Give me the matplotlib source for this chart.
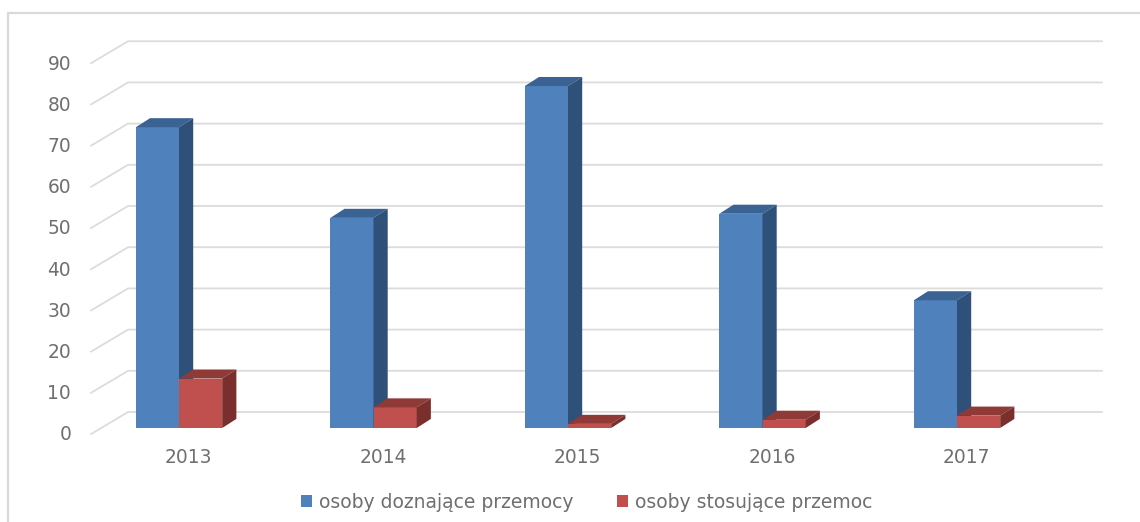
import matplotlib
matplotlib.use('Agg')
import matplotlib.pyplot as plt
from matplotlib.patches import Patch

years = ['2013', '2014', '2015', '2016', '2017']
doznajace = [73, 51, 83, 52, 31]
stosujace = [12, 5, 1, 2, 3]
y_ticks = [0, 10, 20, 30, 40, 50, 60, 70, 80, 90]
names = ['osoby doznające przemocy', 'osoby stosujące przemoc']

text_color = '#6f6f6f'
grid_color = '#dcdcdc'

fig = plt.figure(figsize=(11.4, 5.22), dpi=100)
ax = fig.add_axes([0, 0, 1, 1])
# one category is 194.5 px, one value unit is 4.12 px
ax.set_xlim(-179 / 194.5, (1140 - 179) / 194.5)
ax.set_ylim(-94 / 4.12, 428 / 4.12)
ax.axis('off')

# outer frame of the pasted chart
ax.plot([8 / 1140, 8 / 1140, 1], [0, 1 - 13 / 522, 1 - 13 / 522],
        transform=ax.transAxes, color='#d9d9d9', lw=1.6, clip_on=False)

# walls: slanted piece on the side, long line on the back
for v in y_ticks:
    front = v - 1.46
    back = v + 3.88
    ax.plot([-0.452, -0.262, 4.745], [front, back, back], color=grid_color, lw=1.3, zorder=1)
    ax.text(-0.452 - 0.102, front - 0.2, str(v), ha='right', va='center', fontsize=13.4, color=text_color)

w = 0.222
dx = 0.073
dy = 2.2


def bar3d(x, value, front, top, side):
    ax.bar(x, value, width=w, align='edge', color=front, zorder=3, lw=0)
    ax.fill([x, x + dx, x + w + dx, x + w], [value, value + dy, value + dy, value], color=top, lw=0, zorder=3)
    ax.fill([x + w, x + w + dx, x + w + dx, x + w], [0, dy, value + dy, value], color=side, lw=0, zorder=3)


for i in range(len(years)):
    bar3d(i - w, doznajace[i], '#4f81bd', '#3a6292', '#2f5078')
    bar3d(i, stosujace[i], '#c0504d', '#8f3a37', '#7a2f2c')
    ax.text(i + 0.05, -7.1, years[i], ha='center', va='center', fontsize=13.4, color=text_color)

handles = [Patch(facecolor='#4f81bd', lw=0), Patch(facecolor='#c0504d', lw=0)]
ax.legend(handles, names, ncol=2, loc='center', bbox_to_anchor=(586.5 / 1140, 1 - 502 / 522), frameon=False,
          fontsize=13.5, labelcolor=text_color, handlelength=0.58, handleheight=0.58,
          handletextpad=0.37, columnspacing=2.35, borderpad=0)

fig.savefig('out.png', dpi=100)
